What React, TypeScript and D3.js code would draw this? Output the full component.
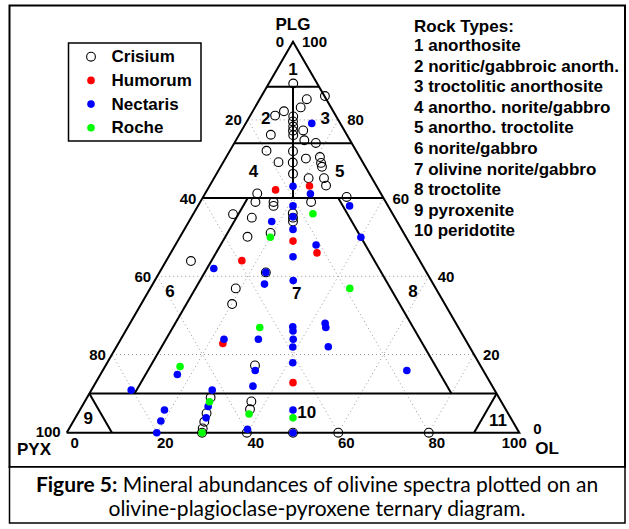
import * as d3 from 'd3';
import React from 'react';

// ternary points as [PLG %, OL %]; PYX is the rest
const crisium: [number, number][] = [
  [89.3, 5.4], [86.1, 14.0], [85.3, 10.4], [83.2, 10.1], [82.2, 6.9], [81.1, 5.5],
  [80.9, 9.6], [79.6, 10.2], [78.3, 10.9], [77.2, 11.4], [76.1, 12.0], [76.2, 7.0],
  [77.3, 13.6], [74.8, 15.1], [74.1, 18.0], [72.1, 8.1], [72.0, 14.0], [69.2, 12.2],
  [69.1, 15.4], [70.1, 17.8], [70.5, 20.7], [69.0, 21.7], [68.0, 22.4], [66.2, 16.9],
  [65.1, 20.9], [65.1, 24.3], [63.2, 25.7], [61.2, 11.5], [60.3, 31.7], [59.0, 12.2],
  [59.0, 16.2], [58.0, 16.7], [59.0, 24.5], [55.9, 8.8], [55.0, 13.4], [56.1, 21.9],
  [55.0, 22.5], [54.0, 23.0], [51.1, 19.5], [50.1, 14.9], [43.9, 5.5], [41.0, 23.5],
  [36.9, 18.9], [32.9, 20.1], [17.2, 33.0], [9.0, 27.3], [5.0, 28.4], [2.8, 29.0],
  [1.1, 29.5], [0, 29.9], [8.0, 36.8], [6.0, 37.5], [0, 39.8], [0, 50.0],
  [0, 60.0], [0, 80.0]
];
const humorum: [number, number][] = [
  [62.1, 15.1], [63.1, 22.1], [49.0, 25.5], [46.0, 32.3], [44.0, 16.7], [22.8, 23.1], [12.8, 43.6]
];
const nectaris: [number, number][] = [
  [79.1, 14.6], [63.0, 18.5], [61.1, 23.3], [58.0, 33.5], [58.0, 21.0], [55.2, 22.4],
  [54.0, 18.3], [52.0, 24.0], [48.0, 31.1], [50.0, 40.0], [45.0, 27.5], [42.0, 11.5],
  [41.0, 23.5], [38.9, 30.6], [38.0, 24.7], [27.1, 36.4], [26.0, 37.0], [23.9, 38.1],
  [21.9, 39.0], [17.9, 41.0], [28.0, 43.1], [26.9, 43.8], [22.0, 46.8], [23.9, 30.4],
  [23.9, 22.8], [14.9, 17.0], [15.9, 33.7], [11.9, 35.2], [10.9, 8.8], [10.9, 26.7],
  [6.7, 27.9], [3.8, 28.9], [5.8, 18.7], [3.0, 19.3], [0, 19.9], [0.9, 39.5],
  [5.8, 47.1], [0, 50.0], [15.9, 67.2]
];
const roche: [number, number][] = [
  [56.0, 26.4], [50.0, 20.0], [36.9, 44.1], [26.9, 29.2], [16.9, 16.6], [7.9, 27.6],
  [4.8, 37.9], [3.8, 48.1], [0, 29.9]
];

const seriesNames = ['Crisium', 'Humorum', 'Nectaris', 'Roche'];
const seriesColors = ['none', '#ff0000', '#0000ff', '#00ff00'];
const rockTypes = [
  '1 anorthosite',
  '2 noritic/gabbroic anorth.',
  '3 troctolitic anorthosite',
  '4 anortho. norite/gabbro',
  '5 anortho. troctolite',
  '6 norite/gabbro',
  '7 olivine norite/gabbro',
  '8 troctolite',
  '9 pyroxenite',
  '10 peridotite'
];
const ticks = [0, 20, 40, 60, 80, 100];
const gridValues = [20, 40, 60, 80];
const plgBounds = [88.5, 74, 60, 10];
// region labels [number, PLG, OL]
const regions: [string, number, number][] = [
  ['1', 93, 3.5], ['2', 80.4, 3.8], ['3', 80.4, 16.9], ['4', 66.7, 7.9], ['5', 66.7, 27],
  ['6', 36, 4.8], ['7', 35.6, 33], ['8', 36, 58.5], ['9', 3.7, 2.9], ['10', 5.1, 50.5],
  ['11', 3.2, 93.7]
];

const font = '"Liberation Sans", Arial, Helvetica, sans-serif';

export default function App() {
  const x = d3.scaleLinear().domain([0, 100]).range([66.7, 519.3]);
  const y = d3.scaleLinear().domain([0, 100]).range([432.7, 41.7]);
  const pt = (plg: number, ol: number): [number, number] => [x(ol + plg / 2), y(plg)];
  const line = d3.line();

  const grid: [number, number][][] = [];
  gridValues.forEach((v) => {
    grid.push([pt(v, 0), pt(v, 100 - v)]);
    grid.push([pt(0, v), pt(100 - v, v)]);
    grid.push([pt(0, 100 - v), pt(100 - v, 0)]);
  });

  const bounds: [number, number][][] = [
    [pt(0, 0), pt(100, 0), pt(0, 100), pt(0, 0)],
    ...plgBounds.map((b) => [pt(b, 0), pt(b, 100 - b)]),
    [pt(plgBounds[0], (100 - plgBounds[0]) / 2), pt(60, 20)],
    [pt(60, 10), pt(10, 10)],
    [pt(60, 30), pt(10, 80)],
    [pt(10, 0), pt(0, 10)],
    [pt(10, 90), pt(0, 90)]
  ];

  const data = [crisium, humorum, nectaris, roche];
  const bold = { fontFamily: font, fontWeight: 700 as const };

  return (
    <svg width={629} height={529} style={{ position: 'absolute', left: 0, top: 0, background: '#fff' }}>
      <rect x={9.5} y={5.5} width={615.5} height={461.5} fill="#fff" stroke="#000" strokeWidth={2} />
      <rect x={9.5} y={467} width={615.5} height={56} fill="#fff" stroke="#000" strokeWidth={1.5} />

      <g fill="none" stroke="#999" strokeWidth={1} strokeDasharray="1,3">
        {grid.map((g, i) => (
          <path key={i} d={line(g) as string} />
        ))}
      </g>
      <g fill="none" stroke="#000" strokeWidth={2}>
        {bounds.map((b, i) => (
          <path key={i} d={line(b) as string} />
        ))}
      </g>

      {/* points */}
      {data.map((s, si) => (
        <g key={si}>
          {s.map(([p, o], i) => {
            const [cx, cy] = pt(p, o);
            return si === 0 ? (
              <circle key={i} cx={cx} cy={cy} r={4.4} fill="none" stroke="#000" strokeWidth={1.1} />
            ) : (
              <circle key={i} cx={cx} cy={cy} r={3.8} fill={seriesColors[si]} />
            );
          })}
        </g>
      ))}

      {/* region numbers */}
      {regions.map(([t, p, o]) => {
        const [tx, ty] = pt(p, o);
        return (
          <text key={t} x={tx} y={ty} textAnchor="middle" dominantBaseline="central" fontSize={17} {...bold}>
            {t}
          </text>
        );
      })}

      {/* tick labels: PYX on left edge, PLG on right edge, OL along base */}
      {ticks.map((v) => {
        const [lx, ly] = pt(100 - v, 0);
        return (
          <text key={'l' + v} x={lx - (v === 0 ? 9 : 6)} y={ly - (v === 100 ? 1 : 0)} textAnchor="end" dominantBaseline="central" fontSize={15} {...bold}>
            {v}
          </text>
        );
      })}
      {ticks.map((v) => {
        const [rx, ry] = pt(v, 100 - v);
        return (
          <text key={'r' + v} x={rx + (v === 0 ? 14 : 9)} y={ry - (v === 0 ? 4 : 0)} textAnchor="start" dominantBaseline="central" fontSize={15} {...bold}>
            {v}
          </text>
        );
      })}
      {ticks.map((v) => {
        const [bx, by] = pt(0, v);
        return (
          <text key={'b' + v} x={bx + (v === 100 ? -5 : 8)} y={by + 10} textAnchor="middle" dominantBaseline="central" fontSize={15} {...bold}>
            {v}
          </text>
        );
      })}

      <text x={x(50)} y={24} textAnchor="middle" dominantBaseline="central" fontSize={17} {...bold}>PLG</text>
      <text x={34} y={449} textAnchor="middle" dominantBaseline="central" fontSize={17} {...bold}>PYX</text>
      <text x={547} y={448} textAnchor="middle" dominantBaseline="central" fontSize={17} {...bold}>OL</text>

      {/* legend */}
      <rect x={68.5} y={43} width={132.5} height={98} fill="#fff" stroke="#000" strokeWidth={1.5} />
      {seriesNames.map((n, i) => (
        <g key={n} transform={`translate(0,${56.7 + i * 23.7})`}>
          {i === 0 ? (
            <circle cx={91} cy={0} r={4.4} fill="none" stroke="#000" strokeWidth={1.1} />
          ) : (
            <circle cx={91} cy={0} r={3.8} fill={seriesColors[i]} />
          )}
          <text x={111.5} y={0} dominantBaseline="central" fontSize={17} {...bold}>{n}</text>
        </g>
      ))}

      {/* rock types */}
      <text x={414} y={26} dominantBaseline="central" fontSize={17} {...bold}>Rock Types:</text>
      {rockTypes.map((r, i) => (
        <text key={r} x={414} y={45.5 + i * 20.6} dominantBaseline="central" fontSize={17} {...bold}>
          {r}
        </text>
      ))}

      {/* caption */}
      <text x={317} y={483} textAnchor="middle" dominantBaseline="central" fontSize={21} fontFamily="Lato, 'Open Sans', sans-serif">
        <tspan fontWeight={700}>Figure 5:</tspan> Mineral abundances of olivine spectra plotted on an
      </text>
      <text x={317} y={507} textAnchor="middle" dominantBaseline="central" fontSize={21} fontFamily="Lato, 'Open Sans', sans-serif">
        olivine-plagioclase-pyroxene ternary diagram.
      </text>
    </svg>
  );
}
